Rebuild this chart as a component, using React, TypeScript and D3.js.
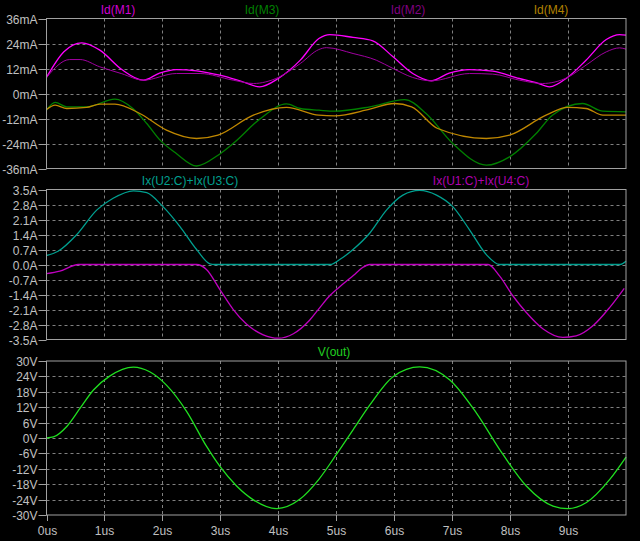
import React, { useRef, useEffect } from "react";
import * as d3 from "d3";

// time axis, microseconds
const xTicks = [0, 1, 2, 3, 4, 5, 6, 7, 8, 9];

// panel 1: drain currents in mA
const tM1 = [0, 0.3, 0.61, 0.92, 1.3, 1.67, 1.95, 2.24, 2.59, 2.99, 3.35, 3.68, 4.0, 4.38, 4.7, 4.89, 5.29, 5.63, 5.98, 6.32, 6.64, 6.95, 7.3, 7.7, 8.16, 8.45, 8.68, 8.99, 9.31, 9.66, 9.89, 10];
const idM1 = [7.7, 20, 24.3, 20.8, 11.5, 6.4, 9.8, 11.5, 10.9, 8.8, 6, 3.2, 7.2, 16, 26.4, 28.3, 26.9, 25.3, 17.6, 9.6, 6.1, 9.8, 11.5, 10.7, 7.2, 5.2, 3.2, 7.7, 16, 25.9, 28.3, 28];
const tM2 = [0, 0.4, 0.58, 0.92, 1.3, 1.67, 2.24, 2.65, 3.22, 3.57, 4.0, 4.38, 4.7, 4.83, 5.29, 5.69, 5.98, 6.32, 6.64, 7.3, 7.7, 8.16, 8.56, 8.99, 9.31, 9.66, 9.89, 10];
const idM2 = [7.7, 16.3, 16.3, 12.8, 9.5, 6.4, 9.6, 9.6, 6.4, 4.8, 7.7, 14.4, 21.1, 22, 19.2, 16, 12, 7.7, 6.1, 9.6, 9.3, 6.4, 4.8, 7.7, 13.6, 20, 21.9, 21.3];
const tM3 = [0, 0.15, 0.35, 0.69, 1.18, 1.49, 1.73, 1.96, 2.24, 2.59, 2.96, 3.22, 3.68, 4.14, 4.38, 4.7, 4.97, 5.58, 6.18, 6.55, 7.01, 7.59, 7.99, 8.45, 8.73, 9.25, 9.6, 10];
const idM3 = [-8, -4.3, -6.4, -6.4, -2.7, -7.2, -14.4, -22.4, -28.8, -34.8, -29.6, -24, -12.3, -5, -7.2, -8, -8.5, -6.4, -2.9, -9.6, -24, -34.4, -30.4, -19.2, -10.4, -4.8, -8.5, -8.8];
const tM4 = [0, 0.15, 0.35, 0.69, 0.92, 1.18, 1.61, 2.07, 2.59, 2.96, 3.57, 4.14, 4.7, 4.97, 5.58, 6.0, 6.3, 6.75, 7.59, 7.99, 8.62, 8.99, 9.31, 9.6, 10];
const idM4 = [-7.7, -5.6, -7.2, -6.7, -5.1, -5.1, -9.6, -17.6, -21.6, -20, -10.4, -6.7, -10.4, -10.7, -7.5, -4.8, -6.4, -16.8, -21.6, -20, -10.4, -6.7, -7.2, -10.4, -10.4];

// panel 2: collector currents in A
const tU23 = [0, 0.2, 0.52, 0.87, 1.15, 1.5, 1.73, 2.01, 2.3, 2.59, 2.82, 2.9, 4.9, 5.06, 5.29, 5.58, 5.87, 6.15, 6.44, 6.73, 7.01, 7.3, 7.59, 7.82, 7.9, 9.9, 10];
const ixU23 = [0.42, 0.62, 1.39, 2.55, 3.09, 3.44, 3.35, 2.7, 1.78, 0.7, 0.03, 0, 0, 0.23, 0.7, 1.47, 2.55, 3.24, 3.46, 3.24, 2.7, 1.62, 0.46, 0, 0, 0, 0.15];
const tU14 = [0, 0.23, 0.55, 2.59, 2.76, 2.99, 3.22, 3.45, 3.74, 4.0, 4.26, 4.54, 4.72, 4.89, 5.1, 5.3, 5.45, 5.58, 7.62, 7.82, 8.05, 8.28, 8.57, 8.91, 9.14, 9.43, 9.72, 9.97];
const ixU14 = [-0.43, -0.31, 0, 0, -0.23, -1.16, -2.09, -2.78, -3.28, -3.44, -3.23, -2.6, -2.0, -1.45, -0.95, -0.5, -0.15, 0, 0, -0.54, -1.47, -2.24, -3.01, -3.4, -3.33, -2.86, -2.0, -1.11];

// panel 3: output voltage in V
const tOut = [0, 0.12, 0.35, 0.58, 0.81, 1.09, 1.5, 1.78, 2.07, 2.42, 2.76, 2.99, 3.28, 3.57, 3.97, 4.37, 4.7, 5.0, 5.29, 5.58, 5.98, 6.44, 6.96, 7.42, 7.82, 8.28, 8.74, 9.0, 9.31, 9.72, 10];
const vOut = [0, 0.4, 4.5, 11.6, 18.7, 24.1, 27.6, 25.8, 20.6, 10.3, -3.2, -11, -18.7, -24.1, -27.5, -23.9, -16.1, -6.5, 3.2, 12.9, 23.9, 27.7, 22.6, 9.7, -4.5, -18.7, -26.5, -27.5, -25.2, -16.1, -7.4];

const ticks1 = [36, 24, 12, 0, -12, -24, -36];
const ticks2 = [3.5, 2.8, 2.1, 1.4, 0.7, 0, -0.7, -1.4, -2.1, -2.8, -3.5];
const ticks3 = [30, 24, 18, 12, 6, 0, -6, -12, -18, -24, -30];

const W = 640;
const H = 541;
const left = 46.5;
const right = 626;

const panels = [
  {
    top: 18.5, bottom: 168.5, domain: [-36, 36], ticks: ticks1,
    fmt: (v: number) => `${v}mA`,
    traces: [
      { t: tM1, v: idM1, color: "#ff00ff", width: 1.3 },
      { t: tM2, v: idM2, color: "#a000a0", width: 1 },
      { t: tM3, v: idM3, color: "#008000", width: 1.3 },
      { t: tM4, v: idM4, color: "#c08800", width: 1.3 },
    ],
    labels: [
      { text: "Id(M1)", x: 118, color: "#d000d0" },
      { text: "Id(M3)", x: 262, color: "#008000" },
      { text: "Id(M2)", x: 408, color: "#800080" },
      { text: "Id(M4)", x: 551, color: "#b08000" },
    ],
  },
  {
    top: 189.5, bottom: 339.5, domain: [-3.5, 3.5], ticks: ticks2,
    fmt: (v: number) => `${v.toFixed(1)}A`,
    traces: [
      { t: tU23, v: ixU23, color: "#00a090", width: 1.3 },
      { t: tU14, v: ixU14, color: "#c000c0", width: 1.3 },
    ],
    labels: [
      { text: "Ix(U2:C)+Ix(U3:C)", x: 190, color: "#00a090" },
      { text: "Ix(U1:C)+Ix(U4:C)", x: 481, color: "#b000b0" },
    ],
  },
  {
    top: 361, bottom: 515, domain: [-30, 30], ticks: ticks3,
    fmt: (v: number) => `${v}V`,
    traces: [{ t: tOut, v: vOut, color: "#20e020", width: 1.3 }],
    labels: [{ text: "V(out)", x: 334, color: "#20d020" }],
  },
];

const App = () => {
  const svgRef = useRef(null);

  useEffect(() => {
    const svg = d3.select(svgRef.current);
    svg.selectAll("*").remove();
    svg.append("rect").attr("width", W).attr("height", H).attr("fill", "#000");

    const x = d3.scaleLinear().domain([0, 10]).range([left, right]);

    panels.forEach((p, i) => {
      const y = d3.scaleLinear().domain(p.domain).range([p.bottom, p.top]);
      const g = svg.append("g");

      // horizontal grid
      g.selectAll(".hg")
        .data(p.ticks.slice(1, -1))
        .enter()
        .append("line")
        .attr("x1", left)
        .attr("x2", right)
        .attr("y1", (d) => Math.round(y(d)) + 0.5)
        .attr("y2", (d) => Math.round(y(d)) + 0.5)
        .attr("stroke", "#808080")
        .attr("stroke-dasharray", "3,3");

      // vertical grid
      g.selectAll(".vg")
        .data(xTicks.slice(1))
        .enter()
        .append("line")
        .attr("x1", (d) => Math.round(x(d)) + 0.5)
        .attr("x2", (d) => Math.round(x(d)) + 0.5)
        .attr("y1", p.top)
        .attr("y2", p.bottom)
        .attr("stroke", "#808080")
        .attr("stroke-dasharray", "3,3");

      // y ticks & labels
      p.ticks.forEach((d) => {
        const yy = Math.round(y(d)) + 0.5;
        g.append("line")
          .attr("x1", left - 8)
          .attr("x2", left)
          .attr("y1", yy)
          .attr("y2", yy)
          .attr("stroke", "#a0a0a0");
        g.append("text")
          .attr("x", left - 9)
          .attr("y", yy + 4.5)
          .attr("text-anchor", "end")
          .attr("fill", "#c0c0c0")
          .attr("font-family", "Liberation Sans, Arial, sans-serif")
          .attr("font-size", 12)
          .text(p.fmt(d));
      });

      // traces
      p.traces.forEach((tr) => {
        const pts = tr.t.map((t, k) => [t, tr.v[k]] as [number, number]);
        const line = d3
          .line<[number, number]>()
          .x((d) => x(d[0]))
          .y((d) => y(d[1]))
          .curve(d3.curveMonotoneX);
        g.append("path")
          .attr("d", line(pts))
          .attr("fill", "none")
          .attr("stroke", tr.color)
          .attr("stroke-width", tr.width);
      });

      // frame
      g.append("rect")
        .attr("x", left)
        .attr("y", p.top)
        .attr("width", right - left)
        .attr("height", p.bottom - p.top)
        .attr("fill", "none")
        .attr("stroke", "#a0a0a0");

      // trace names
      p.labels.forEach((l) => {
        g.append("text")
          .attr("x", l.x)
          .attr("y", p.top - 5)
          .attr("text-anchor", "middle")
          .attr("fill", l.color)
          .attr("font-family", "Liberation Sans, Arial, sans-serif")
          .attr("font-size", 12)
          .text(l.text);
      });

      // x axis on last panel
      if (i === panels.length - 1) {
        xTicks.forEach((d) => {
          const xx = Math.round(x(d)) + 0.5;
          g.append("line")
            .attr("x1", xx)
            .attr("x2", xx)
            .attr("y1", p.bottom)
            .attr("y2", p.bottom + 6)
            .attr("stroke", "#a0a0a0");
          g.append("text")
            .attr("x", xx)
            .attr("y", p.bottom + 20)
            .attr("text-anchor", "middle")
            .attr("fill", "#c0c0c0")
            .attr("font-family", "Liberation Sans, Arial, sans-serif")
            .attr("font-size", 12)
            .text(`${d}us`);
        });
      }
    });
  }, []);

  return (
    <svg
      ref={svgRef}
      width={W}
      height={H}
      style={{ position: "fixed", left: 0, top: 0, display: "block" }}
    ></svg>
  );
};

export default App;
